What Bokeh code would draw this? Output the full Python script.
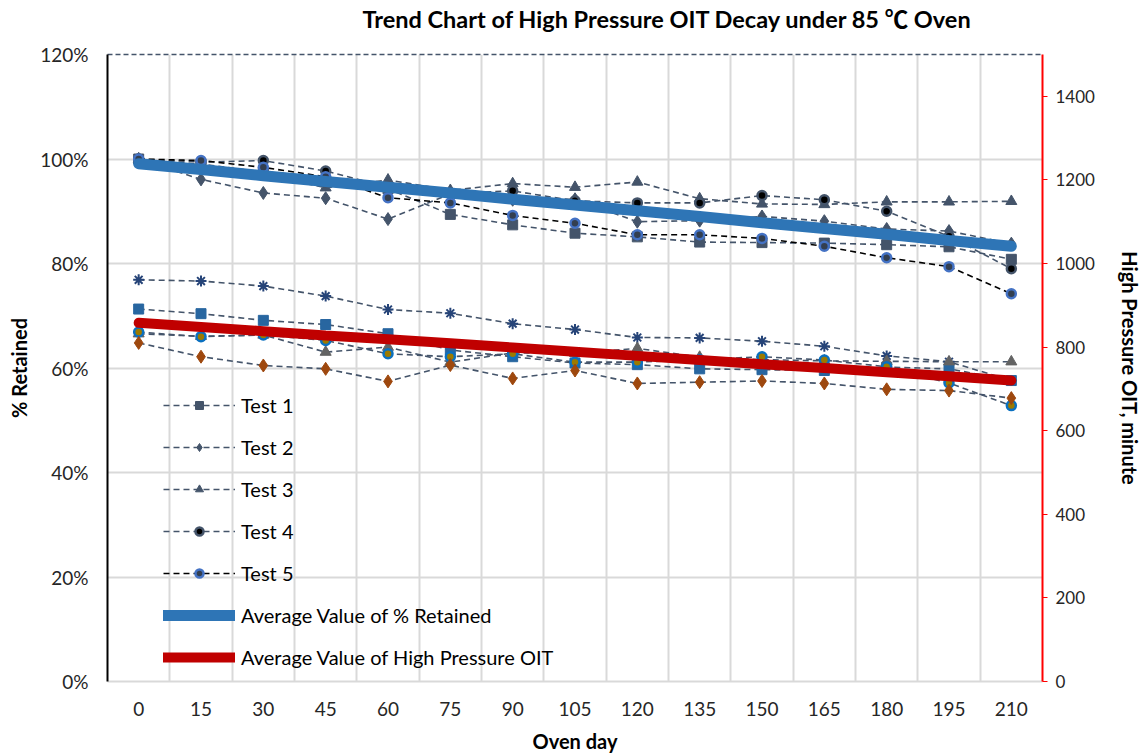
from bokeh.plotting import figure
from bokeh.models import Range1d, LinearAxis, FixedTicker, Legend, LegendItem, Title
from bokeh.embed import file_html
from bokeh.resources import INLINE

# ---------------- data ----------------
days = [0, 15, 30, 45, 60, 75, 90, 105, 120, 135, 150, 165, 180, 195, 210]
pct_ticks = [0, 20, 40, 60, 80, 100, 120]
pct_labels = ["0%", "20%", "40%", "60%", "80%", "100%", "120%"]
oit_ticks = [0, 200, 400, 600, 800, 1000, 1200, 1400]

# % Retained (left axis)
test1_ret = [100.0, 99.0, 97.5, 95.8, 94.3, 89.4, 87.4, 85.8, 85.1, 84.1, 84.0, 83.9, 83.6, 83.2, 80.8]
test2_ret = [100.0, 96.1, 93.5, 92.5, 88.5, 93.3, 92.2, 92.3, 88.0, 88.2, 89.0, 88.1, 86.6, 86.2, 83.8]
test3_ret = [100.0, 98.2, 97.0, 94.5, 96.0, 94.0, 95.3, 94.6, 95.6, 92.4, 91.4, 91.3, 91.8, 91.8, 91.9]
test4_ret = [100.0, 99.4, 99.7, 97.7, 94.6, 93.4, 93.9, 92.0, 91.6, 91.6, 93.0, 92.2, 90.0, 85.2, 79.0]
test5_ret = [100.0, 99.7, 98.4, 96.6, 92.6, 91.6, 89.2, 87.7, 85.5, 85.5, 84.8, 83.3, 81.1, 79.4, 74.2]
avg_ret = [99.1, 98.0, 96.8, 95.7, 94.6, 93.5, 92.3, 91.2, 90.1, 89.0, 87.8, 86.7, 85.6, 84.4, 83.3]

# High Pressure OIT, minute (right axis)
oit_square = [891, 880, 864, 854, 832, 793, 777, 762, 758, 748, 746, 744, 752, 748, 720]
oit_diamond = [810, 777, 756, 748, 718, 757, 725, 744, 713, 716, 719, 713, 699, 696, 678]
oit_triangle = [832, 826, 829, 788, 800, 764, 786, 785, 797, 776, 770, 767, 766, 765, 765]
oit_asterisk = [961, 958, 946, 922, 890, 881, 856, 842, 823, 822, 814, 802, 779, 765, 720]
oit_circle = [836, 825, 829, 816, 784, 777, 784, 764, 764, 770, 777, 769, 753, 714, 660]
avg_oit = [858, 848, 838, 828, 819, 809, 799, 789, 779, 769, 759, 750, 740, 730, 720]

TITLE = "Trend Chart of  High Pressure OIT Decay under 85 \u2103 Oven"
FONT = "Lato"
SLATE = "#44546A"
step = days[1] - days[0]

p = figure(width=1144, height=755, output_backend="svg", toolbar_location=None,
           x_range=Range1d(days[0] - step / 2, days[-1] + step / 2),
           y_range=Range1d(0, 120),
           min_border_left=107, min_border_right=99, min_border_top=54, min_border_bottom=74,
           background_fill_color="white", border_fill_color="white")
p.outline_line_color = None
p.extra_y_ranges = {"oit": Range1d(0, 1500)}

p.title = Title(text=TITLE, align="left", offset=255,
                text_font="Lato, 'Noto Sans CJK SC'", text_font_size="23.5px",
                text_font_style="bold", text_color="black", standoff=4)

# grids
p.xgrid.ticker = FixedTicker(ticks=[d + step / 2 for d in days[:-1]])
p.ygrid.ticker = FixedTicker(ticks=pct_ticks[:-1])
for g in (p.xgrid[0], p.ygrid[0]):
    g.grid_line_color = "#D9D9D9"
    g.grid_line_width = 2

# x axis
xa = p.xaxis[0]
xa.ticker = FixedTicker(ticks=days)
xa.axis_line_color = "#D9D9D9"
xa.axis_line_width = 2
xa.major_tick_line_color = None
xa.minor_tick_line_color = None
xa.major_label_text_font = FONT
xa.major_label_text_font_size = "19px"
xa.major_label_text_color = "#262626"
xa.major_label_standoff = 14
xa.axis_label = "Oven day"
xa.axis_label_text_font = FONT
xa.axis_label_text_font_size = "20px"
xa.axis_label_text_font_style = "bold"
xa.axis_label_text_color = "black"
xa.axis_label_standoff = 10

# left axis
ya = p.yaxis[0]
ya.ticker = FixedTicker(ticks=pct_ticks)
ya.major_label_overrides = {t: l for t, l in zip(pct_ticks, pct_labels)}
ya.axis_line_color = "black"
ya.axis_line_width = 2
ya.major_tick_line_color = None
ya.minor_tick_line_color = None
ya.major_label_text_font = FONT
ya.major_label_text_font_size = "19px"
ya.major_label_text_color = "#262626"
ya.major_label_standoff = 13
ya.axis_label = "% Retained"
ya.axis_label_text_font = FONT
ya.axis_label_text_font_size = "20px"
ya.axis_label_text_font_style = "bold"
ya.axis_label_text_color = "black"
ya.axis_label_standoff = 6

# right axis
ra = LinearAxis(y_range_name="oit", ticker=FixedTicker(ticks=oit_ticks))
ra.axis_line_color = "red"
ra.axis_line_width = 2
ra.major_tick_line_color = "red"
ra.major_tick_out = 5
ra.major_tick_in = 0
ra.minor_tick_line_color = None
ra.major_label_text_font = FONT
ra.major_label_text_font_size = "17px"
ra.major_label_text_color = "#262626"
ra.major_label_standoff = 8
ra.axis_label = "High Pressure OIT, minute"
ra.axis_label_text_font = FONT
ra.axis_label_text_font_size = "20px"
ra.axis_label_text_font_style = "bold"
ra.axis_label_text_color = "black"
ra.axis_label_standoff = 20
p.add_layout(ra, "right")

# top dashed border; a blank axis label band lifts the title above it
ta = LinearAxis(ticker=FixedTicker(ticks=[]))
ta.axis_line_color = SLATE
ta.axis_line_dash = "5 3"
ta.axis_line_width = 1.5
ta.major_tick_line_color = None
ta.minor_tick_line_color = None
ta.major_label_text_font_size = "0px"
ta.major_label_standoff = 0
ta.axis_label = " "
ta.axis_label_text_font = FONT
ta.axis_label_text_font_size = "14px"
ta.axis_label_standoff = 0
p.add_layout(ta, "above")

# ---------------- lower series (OIT, right axis) ----------------
lower = [
    (oit_asterisk, "asterisk", "#264478", "#264478", 11, 2.0),
    (oit_square, "square", "#2866A0", "#2866A0", 10, 1.0),
    (oit_triangle, "triangle", "#636363", "#636363", 11, 1.0),
    (oit_circle, "circle", "#9C7A00", "#0A70C0", 9, 2.5),
    (oit_diamond, "diamond", "#9E480E", "#9E480E", 13, 1.0),
]
for vals, mk, fill, line, size, lw in lower:
    p.line(days, vals, y_range_name="oit", line_color=SLATE, line_width=1.6, line_dash="6 4")
for vals, mk, fill, line, size, lw in lower:
    p.scatter(days, vals, y_range_name="oit", marker=mk, size=size, fill_color=fill,
              line_color=line, line_width=lw)

# ---------------- upper series (% retained, left axis) ----------------
upper = [
    ("Test 1", test1_ret, "square", SLATE, SLATE, SLATE, 10, 1.0),
    ("Test 2", test2_ret, "diamond", SLATE, SLATE, SLATE, 13, 1.0),
    ("Test 3", test3_ret, "triangle", SLATE, SLATE, SLATE, 11, 1.0),
    ("Test 4", test4_ret, "circle", SLATE, "black", SLATE, 9, 2.5),
    ("Test 5", test5_ret, "circle", "black", "#333F50", "#4472C4", 9, 2.5),
]
items = []
for name, vals, mk, lcol, fill, outline, size, lw in upper:
    lr = p.line(days, vals, line_color=lcol, line_width=1.6, line_dash="6 4")
    sr = p.scatter(days, vals, marker=mk, size=size, fill_color=fill, line_color=outline, line_width=lw)
    items.append(LegendItem(label=name, renderers=[lr, sr]))

# ---------------- average lines ----------------
ab = p.line(days, avg_ret, line_color="#2E75B6", line_width=11, line_cap="round")
ar = p.line(days, avg_oit, y_range_name="oit", line_color="#C00000", line_width=10, line_cap="round")
items.append(LegendItem(label="Average Value of % Retained", renderers=[ab]))
items.append(LegendItem(label="Average Value of High Pressure OIT", renderers=[ar]))

legend = Legend(items=items, location=(56, 3), border_line_color=None,
                background_fill_alpha=0, padding=0, spacing=0, margin=0,
                glyph_width=72, glyph_height=20, label_height=42, label_standoff=6,
                label_text_font=FONT, label_text_font_size="20px", label_text_color="black")
p.add_layout(legend)

open("out.html", "w").write(file_html(p, INLINE))
